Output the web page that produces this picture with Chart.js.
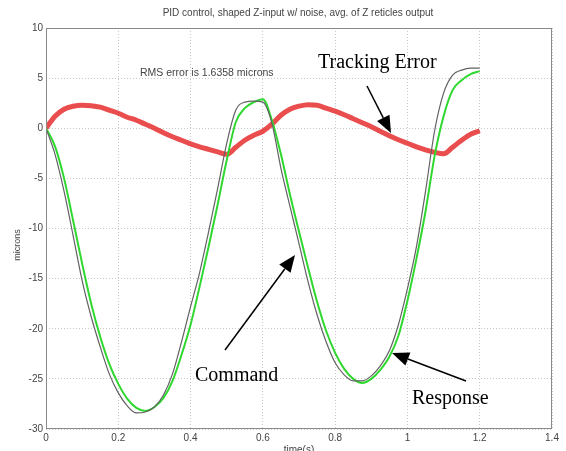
<!DOCTYPE html>
<html>
<head>
<meta charset="utf-8">
<script src="https://cdn.jsdelivr.net/npm/chart.js@4.4.1/dist/chart.umd.min.js"></script>
<style>
  html, body { margin: 0; padding: 0; background: #fff; }
  #wrap { width: 566px; height: 451px; }
</style>
</head>
<body>
<div id="wrap"><canvas id="c" width="566" height="451"></canvas></div>
<script>
// time base (s)
const time = [0, 0.025, 0.05, 0.075, 0.1, 0.125, 0.15, 0.175, 0.2, 0.225, 0.25, 0.275, 0.3, 0.325, 0.35, 0.375,
  0.4, 0.425, 0.45, 0.475, 0.5, 0.525, 0.55, 0.575, 0.6, 0.625, 0.65, 0.675, 0.7, 0.725, 0.75, 0.775,
  0.8, 0.825, 0.85, 0.875, 0.9, 0.925, 0.95, 0.975, 1.0, 1.025, 1.05, 1.075, 1.1, 1.125, 1.15, 1.175, 1.2];

// microns
const command = [0, -2.6, -6.3, -10.7, -15.2, -18.8, -21.8, -24.5, -26.4, -27.7, -28.4, -28.3, -27.8, -26.6, -24.5, -21.3,
  -17.8, -14.4, -10.3, -6.0, -1.5, 1.8, 2.6, 2.7, 2.6, 0.5, -4.0, -7.8, -11.5, -15.3, -18.6, -21.3,
  -23.4, -24.6, -25.2, -25.2, -24.7, -23.7, -22.2, -19.6, -16.0, -11.8, -6.3, -0.3, 3.5, 5.3, 5.8, 6.0, 6.0];

const response = [0, -1.8, -5.0, -9.2, -13.5, -17.5, -20.8, -23.5, -25.5, -27.0, -27.9, -28.2, -27.8, -26.9, -25.2, -22.6,
  -19.6, -15.8, -11.8, -7.6, -3.2, 0.6, 2.0, 2.6, 2.9, 0.8, -2.6, -6.6, -10.3, -13.9, -17.3, -20.2,
  -22.4, -24.0, -25.0, -25.4, -25.0, -24.1, -22.8, -20.7, -17.2, -13.0, -8.3, -2.8, 1.2, 3.8, 4.8, 5.4, 5.7];

const trackingError = [0, 1.2, 1.9, 2.2, 2.3, 2.25, 2.1, 1.8, 1.5, 1.1, 0.8, 0.4, 0.0, -0.45, -0.85, -1.2,
  -1.55, -1.85, -2.1, -2.35, -2.6, -1.9, -1.2, -0.7, -0.3, 0.4, 1.3, 1.9, 2.2, 2.35, 2.3, 2.0,
  1.7, 1.35, 0.95, 0.55, 0.15, -0.3, -0.75, -1.15, -1.5, -1.85, -2.15, -2.4, -2.55, -1.9, -1.2, -0.6, -0.25];

const xTicks = [0, 0.2, 0.4, 0.6, 0.8, 1, 1.2, 1.4];
const xTickLabels = ['0', '0.2', '0.4', '0.6', '0.8', '1', '1.2', '1.4'];
const yTicks = [10, 5, 0, -5, -10, -15, -20, -25, -30];
const yTickLabels = ['10', '5', '0', '-5', '-10', '-15', '-20', '-25', '-30'];

const pts = arr => arr.map((v, i) => ({ x: time[i], y: v }));

const small = '"Liberation Sans", Arial, sans-serif';
const serif = '"Liberation Serif", "Times New Roman", serif';

function arrow(ctx, x1, y1, x2, y2) {
  const a = Math.atan2(y2 - y1, x2 - x1);
  const len = 17, half = 7;
  const bx = x2 - len * Math.cos(a), by = y2 - len * Math.sin(a);
  ctx.beginPath();
  ctx.moveTo(x1, y1);
  ctx.lineTo(bx, by);
  ctx.stroke();
  ctx.beginPath();
  ctx.moveTo(x2, y2);
  ctx.lineTo(bx + half * Math.sin(a), by - half * Math.cos(a));
  ctx.lineTo(bx - half * Math.sin(a), by + half * Math.cos(a));
  ctx.closePath();
  ctx.fill();
}

const decorations = {
  id: 'decorations',
  afterDraw(chart) {
    const { ctx, chartArea: a } = chart;
    ctx.save();
    // frame
    ctx.strokeStyle = '#8a8a8a';
    ctx.lineWidth = 1;
    ctx.strokeRect(a.left + 0.5, a.top + 0.5, a.right - a.left - 1, a.bottom - a.top - 1);

    ctx.fillStyle = '#444';
    ctx.font = '10px ' + small;
    ctx.textAlign = 'center';
    ctx.textBaseline = 'middle';
    ctx.fillText('PID control, shaped Z-input w/ noise, avg. of Z reticles output', 298, 13);
    ctx.fillText('time(s)', 299, 450);
    ctx.textAlign = 'left';
    ctx.font = '10.5px ' + small;
    ctx.fillText('RMS error is 1.6358 microns', 140, 73);

    ctx.save();
    ctx.translate(18, 245);
    ctx.rotate(-Math.PI / 2);
    ctx.textAlign = 'center';
    ctx.font = '9px ' + small;
    ctx.fillText('microns', 0, 0);
    ctx.restore();

    ctx.fillStyle = '#000';
    ctx.font = '20px ' + serif;
    ctx.textAlign = 'left';
    ctx.fillText('Tracking Error', 318, 63);
    ctx.fillText('Command', 195, 376);
    ctx.fillText('Response', 412, 399);

    ctx.strokeStyle = '#000';
    ctx.lineWidth = 1.5;
    arrow(ctx, 367, 86, 391, 133);
    arrow(ctx, 225, 350, 295, 255);
    arrow(ctx, 466, 381, 392, 353);
    ctx.restore();
  }
};

new Chart(document.getElementById('c'), {
  type: 'line',
  data: {
    datasets: [
      {
        label: 'Command',
        data: pts(command),
        borderColor: '#626262',
        borderWidth: 1.2,
        pointRadius: 0,
        cubicInterpolationMode: 'monotone'
      },
      {
        label: 'Response',
        data: pts(response),
        borderColor: '#2fd82f',
        borderWidth: 2,
        pointRadius: 0,
        cubicInterpolationMode: 'monotone'
      },
      {
        label: 'Tracking Error',
        data: pts(trackingError),
        borderColor: 'rgba(228, 38, 38, 0.82)',
        borderWidth: 5,
        pointRadius: 0,
        cubicInterpolationMode: 'monotone'
      }
    ]
  },
  options: {
    responsive: false,
    animation: false,
    layout: { padding: { left: 0, top: 28, right: 14, bottom: 0 } },
    plugins: { legend: { display: false }, tooltip: { enabled: false } },
    scales: {
      x: {
        type: 'linear',
        min: 0,
        max: 1.4,
        afterBuildTicks: s => { s.ticks = xTicks.map(v => ({ value: v })); },
        afterFit: s => { s.height = 22; },
        ticks: {
          autoSkip: false,
          maxRotation: 0,
          padding: 3,
          color: '#444',
          font: { family: small, size: 10 },
          callback: (v, i) => xTickLabels[i]
        },
        grid: { color: '#c8c8c8', drawTicks: false },
        border: { display: false, dash: [1, 2] }
      },
      y: {
        min: -30,
        max: 10,
        afterBuildTicks: s => { s.ticks = yTicks.map(v => ({ value: v })); },
        afterFit: s => { s.width = 46; },
        ticks: {
          autoSkip: false,
          padding: 3,
          color: '#444',
          font: { family: small, size: 10 },
          callback: (v, i) => yTickLabels[i]
        },
        grid: { color: '#c8c8c8', drawTicks: false },
        border: { display: false, dash: [1, 2] }
      }
    }
  },
  plugins: [decorations]
});
</script>
</body>
</html>
